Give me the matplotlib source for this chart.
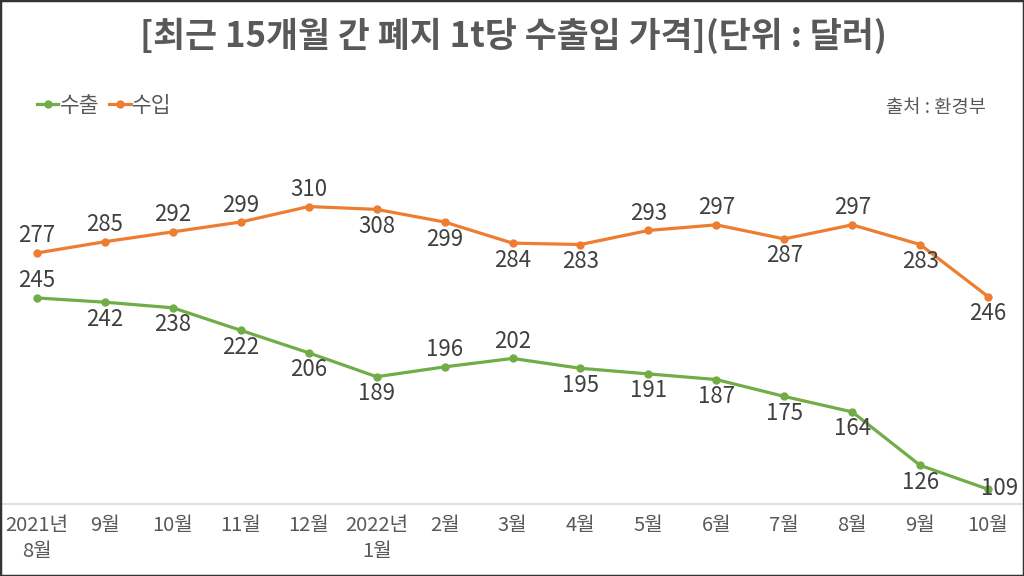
import matplotlib.pyplot as plt
from matplotlib.patches import Rectangle

plt.rcParams['font.family'] = ['Noto Sans CJK KR', 'DejaVu Sans']

months = ["2021년\n8월", "9월", "10월", "11월", "12월", "2022년\n1월", "2월", "3월",
          "4월", "5월", "6월", "7월", "8월", "9월", "10월"]
export_price = [245, 242, 238, 222, 206, 189, 196, 202, 195, 191, 187, 175, 164, 126, 109]
import_price = [277, 285, 292, 299, 310, 308, 299, 284, 283, 293, 297, 287, 297, 283, 246]

# label placement per point: 1 above, -1 below, 0 right
export_pos = [1, -1, -1, -1, -1, -1, 1, 1, -1, -1, -1, -1, -1, -1, 0]
import_pos = [1, 1, 1, 1, 1, -1, -1, -1, -1, 1, 1, -1, 1, -1, -1]

GREEN = "#70AD47"
ORANGE = "#ED7D31"
TEXT = "#404040"

W, H = 1024, 576
fig = plt.figure(figsize=(W / 100, H / 100), dpi=100)
# plot area in pixels: x 3..1022, y 151..504
ax = fig.add_axes([3 / W, (H - 504) / H, 1019 / W, (504 - 151) / H])

x = list(range(len(months)))
ax.plot(x, export_price, color=GREEN, lw=2.3, marker="o", ms=5, label="수출", clip_on=False)
ax.plot(x, import_price, color=ORANGE, lw=2.3, marker="o", ms=5, label="수입", clip_on=False)

for vals, pos in ((export_price, export_pos), (import_price, import_pos)):
    for i, (v, p) in enumerate(zip(vals, pos)):
        off = (12, 1) if p == 0 else (0, 17 * p)
        ax.annotate(str(v), (i, v), xytext=off, textcoords="offset pixels",
                    ha="center", va="center", fontsize=16,
                    color=TEXT, annotation_clip=False)

ax.set_xlim(-0.5, 14.5)
ax.set_ylim(98.5, 349.5)
ax.set_xticks(x)
ax.set_xticklabels(months, fontsize=14.5, color="#595959", linespacing=1.3)
ax.tick_params(axis="x", length=0, pad=8)
ax.set_yticks([])
for s in ("top", "left", "right"):
    ax.spines[s].set_visible(False)
ax.spines["bottom"].set_color("#D9D9D9")
ax.spines["bottom"].set_linewidth(1.2)

fig.text(513 / W, 1 - 36 / H, "[최근 15개월 간 폐지 1t당 수출입 가격](단위 : 달러)",
         ha="center", va="center", fontsize=25, fontweight="bold", color="#595959")

ax.legend(loc="center left", bbox_to_anchor=(26 / W, 1 - 106 / H), bbox_transform=fig.transFigure,
          frameon=False, handlelength=1.0, handletextpad=0.08, columnspacing=0.45,
          ncol=2, borderpad=0, labelcolor="#595959", prop={"size": 15.5})

fig.text(986 / W, 1 - 107 / H, "출처 : 환경부", ha="right", va="center", fontsize=13.5,
         color="#595959")

fig.patches.append(Rectangle((0, 0), 1, 1, transform=fig.transFigure, fill=False,
                             edgecolor="#333333", lw=2.5, zorder=10))

fig.savefig("out.png", dpi=100)
